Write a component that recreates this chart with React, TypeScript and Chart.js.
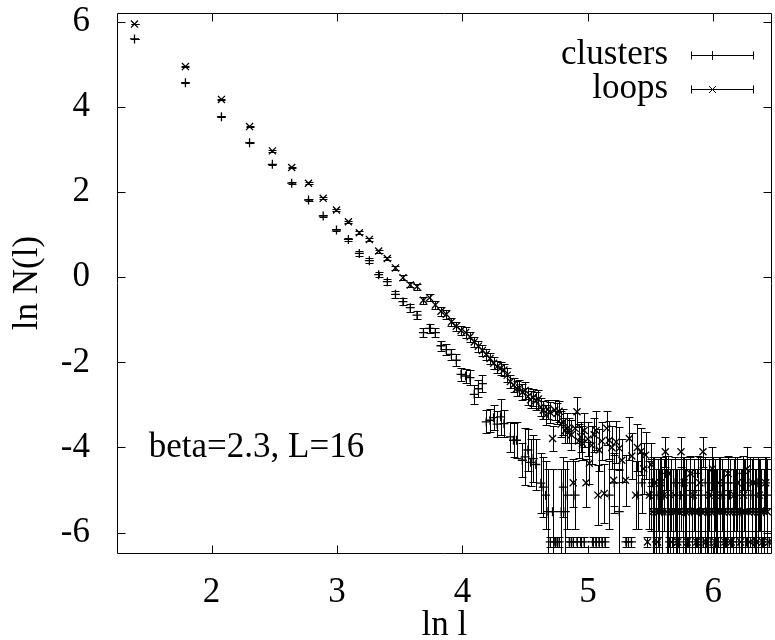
import React, { useEffect, useRef } from 'react';
import { Chart, registerables } from 'chart.js';

Chart.register(...registerables);

// ---- data ----
const seriesNames = ['clusters', 'loops'];
const xTicks = [2, 3, 4, 5, 6];
const yTicks = [-6, -4, -2, 0, 2, 4, 6];
const xTitle = 'ln l';
const yTitle = 'ln N(l)';
const annotationText = 'beta=2.3, L=16';
const annotationPos = [1.5, -4.0];

const clusterX = [
  1.386, 1.792, 2.079, 2.303, 2.485, 2.639, 2.773, 2.890, 2.996, 3.091,
  3.178, 3.258, 3.332, 3.401, 3.466, 3.526, 3.584, 3.638, 3.689, 3.738,
  3.784, 3.829, 3.871, 3.912, 3.951, 3.989, 4.025, 4.060, 4.094, 4.127,
  4.159, 4.190, 4.220, 4.248, 4.277, 4.304, 4.331, 4.382, 4.407, 4.431,
  4.477, 4.500, 4.522, 4.543, 4.564, 4.585, 4.625, 4.644, 4.663, 4.682,
  4.700, 4.718, 4.736, 4.754, 4.771, 4.787, 4.804, 4.820, 4.836, 4.852,
  4.868, 4.883, 4.898, 4.913, 4.942, 4.970, 5.037, 5.063, 5.088, 5.112,
  5.136, 5.170, 5.210, 5.250, 5.303, 5.323, 5.347, 5.400, 5.430,
  5.500, 5.515, 5.530, 5.545, 5.560, 5.575, 5.590, 5.605, 5.620, 5.635,
  5.650, 5.665, 5.680, 5.695, 5.710, 5.725, 5.740, 5.755, 5.770, 5.785,
  5.800, 5.815, 5.830, 5.845, 5.860, 5.875, 5.890, 5.905, 5.920, 5.935,
  5.950, 5.965, 5.980, 5.995, 6.010, 6.025, 6.040, 6.055, 6.070, 6.085,
  6.100, 6.115, 6.130, 6.145, 6.160, 6.175, 6.190, 6.205, 6.220, 6.235,
  6.250, 6.265, 6.280, 6.295, 6.310, 6.325, 6.340, 6.355, 6.370, 6.385,
  6.400, 6.415, 6.430, 6.445,
];
const clusterY = [
  5.60, 4.57, 3.77, 3.16, 2.655, 2.21, 1.815, 1.44, 1.11, 0.89,
  0.56, 0.39, 0.06, -0.105, -0.40, -0.575, -0.716, -0.89, -1.30, -1.20,
  -1.30, -1.61, -1.70, -1.81, -1.95, -2.28, -2.32, -2.36, -2.75, -2.62,
  -2.50, -3.40, -3.36, -3.30, -3.45, -3.28, -3.44, -3.75, -3.83, -3.83,
  -4.30, -4.22, -4.06, -4.35, -4.26, -4.40, -4.84, -4.93, -5.12, -5.51,
  -6.22, -5.51, -6.22, -6.22, -6.22, -5.51, -4.93, -5.51, -5.12, -6.22,
  -6.22, -6.22, -5.12, -6.22, -6.22, -6.22, -6.22, -6.22, -6.22, -6.22,
  -6.22, -5.12, -4.83, -5.51, -6.22, -6.22, -6.22, -5.12, -4.83,
  -5.12, -4.83, -5.51, -6.22, -5.12, -4.83, -5.51, -5.12, -4.61, -5.51,
  -6.22, -5.12, -6.22, -4.83, -5.51, -6.22, -5.12, -4.83, -5.51, -5.12,
  -6.22, -4.83, -5.51, -5.12, -6.22, -4.61, -5.51, -5.12, -6.22, -4.83,
  -5.51, -5.12, -6.22, -4.83, -5.12, -5.51, -6.22, -4.83, -5.12, -5.51,
  -6.22, -4.83, -5.12, -6.22, -5.51, -4.83, -5.12, -6.22, -5.51, -4.61,
  -5.12, -6.22, -5.51, -4.83, -5.12, -6.22, -5.51, -4.83, -5.12, -6.22,
  -5.51, -4.83, -5.12, -6.22,
];
const clusterErr = [
  0.01, 0.01, 0.01, 0.01, 0.015, 0.02, 0.02, 0.03, 0.03, 0.04,
  0.06, 0.06, 0.06, 0.07, 0.08, 0.08, 0.09, 0.10, 0.10, 0.10,
  0.11, 0.12, 0.12, 0.13, 0.14, 0.15, 0.16, 0.17, 0.22, 0.20,
  0.20, 0.27, 0.27, 0.30, 0.30, 0.43, 0.32, 0.35, 0.40, 0.42,
  0.40, 0.67, 0.50, 0.55, 0.55, 0.60, 0.70, 0.70, 0.80, 1.00,
  0.12, 1.00, 0.12, 0.12, 0.12, 1.00, 0.70, 1.00, 0.80, 0.12,
  0.12, 0.12, 0.80, 0.12, 0.12, 0.12, 0.12, 0.12, 0.12, 0.12,
  0.12, 0.80, 0.70, 1.00, 0.12, 0.12, 0.12, 0.80, 0.70,
  0.85, 0.60, 1.00, 0.12, 0.85, 0.60, 1.00, 0.85, 0.40, 1.00,
  0.12, 0.85, 0.12, 0.60, 1.00, 0.12, 0.85, 0.60, 1.00, 0.85,
  0.12, 0.60, 1.00, 0.85, 0.12, 0.40, 1.00, 0.85, 0.12, 0.60,
  1.00, 0.85, 0.12, 0.60, 0.85, 1.00, 0.12, 0.60, 0.85, 1.00,
  0.12, 0.60, 0.85, 0.12, 1.00, 0.60, 0.85, 0.12, 1.00, 0.40,
  0.85, 0.12, 1.00, 0.60, 0.85, 0.12, 1.00, 0.60, 0.85, 0.12,
  1.00, 0.60, 0.85, 0.12,
];

const loopX = [
  1.386, 1.792, 2.079, 2.303, 2.485, 2.639, 2.773, 2.890, 2.996, 3.091,
  3.178, 3.258, 3.332, 3.401, 3.466, 3.526, 3.584, 3.638, 3.689, 3.738,
  3.784, 3.829, 3.871, 3.912, 3.951, 3.989, 4.025, 4.060, 4.094, 4.127,
  4.159, 4.190, 4.220, 4.248, 4.277, 4.304, 4.331, 4.357, 4.382, 4.407,
  4.431, 4.454, 4.477, 4.500, 4.522, 4.543, 4.564, 4.585, 4.605, 4.625,
  4.644, 4.663, 4.682, 4.700, 4.718, 4.736, 4.754, 4.771, 4.787, 4.804,
  4.820, 4.836, 4.852, 4.868, 4.883, 4.898, 4.913, 4.927, 4.942, 4.956,
  4.970, 4.985, 5.000, 5.011, 5.030, 5.050, 5.065, 5.080, 5.090, 5.110,
  5.130, 5.150, 5.170, 5.190, 5.205, 5.225, 5.250, 5.270, 5.300, 5.330,
  5.350, 5.380, 5.395, 5.420, 5.445, 5.460, 5.475, 5.490,
  5.505, 5.517, 5.530, 5.542, 5.555, 5.567, 5.580, 5.592, 5.605, 5.617,
  5.630, 5.642, 5.655, 5.667, 5.680, 5.692, 5.705, 5.717, 5.730, 5.742,
  5.755, 5.767, 5.780, 5.792, 5.805, 5.817, 5.830, 5.842, 5.855, 5.867,
  5.880, 5.892, 5.905, 5.917, 5.930, 5.942, 5.955, 5.967, 5.980, 5.992,
  6.005, 6.017, 6.030, 6.042, 6.055, 6.067, 6.080, 6.092, 6.105, 6.117,
  6.130, 6.142, 6.155, 6.167, 6.180, 6.192, 6.205, 6.217, 6.230, 6.242,
  6.255, 6.267, 6.280, 6.292, 6.305, 6.317, 6.330, 6.342, 6.355, 6.367,
  6.380, 6.392, 6.405, 6.417, 6.430, 6.442,
];
const loopY = [
  5.95, 4.95, 4.18, 3.54, 2.97, 2.58, 2.21, 1.855, 1.58, 1.305,
  1.046, 0.89, 0.616, 0.44, 0.22, -0.01, -0.18, -0.22, -0.54, -0.48,
  -0.65, -0.80, -0.87, -1.05, -1.15, -1.25, -1.30, -1.40, -1.52, -1.62,
  -1.72, -1.81, -1.91, -2.02, -2.10, -2.14, -2.18, -2.30, -2.45, -2.53,
  -2.62, -2.60, -2.70, -2.66, -2.80, -2.88, -2.82, -2.90, -2.86, -3.05,
  -3.12, -3.24, -3.10, -3.18, -3.79, -3.12, -3.20, -3.15, -3.45, -3.40,
  -3.60, -3.55, -3.60, -3.70, -4.83, -3.55, -3.16, -3.85, -3.75, -3.90,
  -3.60, -4.83, -3.80, -4.37, -3.95, -3.70, -3.60, -5.12, -4.06, -3.85,
  -5.08, -3.55, -3.83, -4.00, -4.77, -3.87, -4.02, -4.30, -4.77, -3.79,
  -4.20, -5.12, -4.00, -4.10, -4.50, -4.18, -6.22, -5.12,
  -4.40, -5.51, -4.83, -5.51, -6.22, -5.51, -4.83, -5.51, -5.12, -4.10,
  -5.51, -4.61, -5.51, -6.22, -5.51, -5.12, -5.51, -6.22, -5.51, -4.10,
  -5.51, -4.83, -5.51, -6.22, -5.51, -4.61, -5.51, -5.12, -5.51, -6.22,
  -5.51, -4.83, -5.51, -4.10, -5.51, -6.22, -5.51, -5.12, -5.51, -4.50,
  -5.51, -6.22, -5.51, -4.83, -5.51, -5.12, -5.51, -6.22, -5.51, -4.61,
  -5.51, -6.22, -5.51, -5.12, -5.51, -4.83, -5.51, -6.22, -5.51, -5.12,
  -5.51, -4.50, -5.51, -6.22, -5.51, -4.83, -5.51, -6.22, -5.51, -5.12,
  -5.51, -6.22, -5.51, -4.83, -5.51, -6.22,
];
const loopErr = [
  0.01, 0.01, 0.01, 0.01, 0.015, 0.015, 0.02, 0.02, 0.02, 0.025,
  0.03, 0.03, 0.035, 0.04, 0.05, 0.06, 0.06, 0.07, 0.08, 0.08,
  0.09, 0.10, 0.10, 0.10, 0.11, 0.11, 0.12, 0.12, 0.12, 0.13,
  0.13, 0.13, 0.14, 0.14, 0.14, 0.15, 0.15, 0.16, 0.16, 0.17,
  0.18, 0.18, 0.19, 0.19, 0.20, 0.20, 0.20, 0.21, 0.22, 0.22,
  0.22, 0.24, 0.22, 0.24, 0.30, 0.24, 0.25, 0.25, 0.30, 0.30,
  0.30, 0.35, 0.30, 0.35, 0.57, 0.35, 0.35, 0.40, 0.35, 0.40,
  0.40, 0.57, 0.40, 0.50, 0.45, 0.40, 0.45, 0.70, 0.50, 0.45,
  0.70, 0.40, 0.45, 0.50, 0.60, 0.50, 0.50, 0.50, 0.60, 0.50,
  0.55, 0.80, 0.55, 0.55, 0.60, 0.55, 0.12, 0.80,
  0.50, 1.00, 0.60, 1.00, 0.12, 1.00, 0.60, 1.00, 0.85, 0.35,
  1.00, 0.40, 1.00, 0.12, 1.00, 0.85, 1.00, 0.12, 1.00, 0.35,
  1.00, 0.60, 1.00, 0.12, 1.00, 0.40, 1.00, 0.85, 1.00, 0.12,
  1.00, 0.60, 1.00, 0.35, 1.00, 0.12, 1.00, 0.85, 1.00, 0.50,
  1.00, 0.12, 1.00, 0.60, 1.00, 0.85, 1.00, 0.12, 1.00, 0.40,
  1.00, 0.12, 1.00, 0.85, 1.00, 0.60, 1.00, 0.12, 1.00, 0.85,
  1.00, 0.50, 1.00, 0.12, 1.00, 0.60, 1.00, 0.12, 1.00, 0.85,
  1.00, 0.12, 1.00, 0.60, 1.00, 0.12,
];

// ---- presentation ----
const FONT = "'Liberation Serif', 'Times New Roman', Times, serif";
const FS = 35;
const X_MIN = 1.2465;
const X_MAX = 6.465;
const Y_MIN = -6.48;
const Y_MAX = 6.21;

const px = (v: number) => Math.round(v) + 0.5;

const zeroPad = (s: any) => {
  s.paddingTop = 0;
  s.paddingBottom = 0;
  s.paddingLeft = 0;
  s.paddingRight = 0;
};

const drawPlugin = {
  id: 'gnuplotDecor',
  afterDatasetsDraw(chart: any) {
    const { ctx, chartArea: a, scales } = chart;
    const xs = scales.x;
    const ys = scales.y;
    ctx.save();
    ctx.strokeStyle = '#000';
    ctx.lineWidth = 1;
    // error bars
    ctx.save();
    ctx.beginPath();
    ctx.rect(a.left, a.top, a.right - a.left, a.bottom - a.top);
    ctx.clip();
    chart.data.datasets.forEach((ds: any) => {
      ds.data.forEach((p: any, i: number) => {
        const e = ds.errors[i];
        const cx = px(xs.getPixelForValue(p.x));
        const y1 = px(ys.getPixelForValue(p.y + e));
        const y2 = px(ys.getPixelForValue(p.y - e));
        ctx.beginPath();
        ctx.moveTo(cx, y1);
        ctx.lineTo(cx, y2);
        ctx.moveTo(cx - 4, y1);
        ctx.lineTo(cx + 4, y1);
        ctx.moveTo(cx - 4, y2);
        ctx.lineTo(cx + 4, y2);
        ctx.stroke();
      });
    });
    ctx.restore();

    // frame
    const L = px(a.left), R = px(a.right - 1), T = px(a.top), B = px(a.bottom);
    ctx.beginPath();
    ctx.rect(L, T, R - L, B - T);
    ctx.stroke();
    // inward ticks on all four sides
    ctx.beginPath();
    xTicks.forEach((v) => {
      const x = px(xs.getPixelForValue(v));
      ctx.moveTo(x, B); ctx.lineTo(x, B - 8);
      ctx.moveTo(x, T); ctx.lineTo(x, T + 8);
    });
    yTicks.forEach((v) => {
      const y = px(ys.getPixelForValue(v));
      ctx.moveTo(L, y); ctx.lineTo(L + 8, y);
      ctx.moveTo(R, y); ctx.lineTo(R - 8, y);
    });
    ctx.stroke();

    // annotation
    ctx.fillStyle = '#000';
    ctx.font = `${FS}px ${FONT}`;
    ctx.textAlign = 'left';
    ctx.textBaseline = 'middle';
    ctx.fillText(annotationText, xs.getPixelForValue(annotationPos[0]), ys.getPixelForValue(annotationPos[1]));

    // legend (gnuplot style: text, then sample)
    const rows = [55, 89];
    chart.data.datasets.forEach((ds: any, i: number) => {
      const yy = rows[i];
      ctx.textAlign = 'right';
      ctx.fillText(ds.label, 668, yy);
      const y0 = px(yy);
      ctx.beginPath();
      ctx.moveTo(691, y0); ctx.lineTo(753, y0);
      ctx.moveTo(px(691), y0 - 4); ctx.lineTo(px(691), y0 + 4);
      ctx.moveTo(px(753), y0 - 4); ctx.lineTo(px(753), y0 + 4);
      const mx = px(712);
      if (ds.pointStyle === 'cross') {
        ctx.moveTo(mx, y0 - 4.5); ctx.lineTo(mx, y0 + 4.5);
      } else {
        ctx.moveTo(mx - 3.5, y0 - 3.5); ctx.lineTo(mx + 3.5, y0 + 3.5);
        ctx.moveTo(mx - 3.5, y0 + 3.5); ctx.lineTo(mx + 3.5, y0 - 3.5);
      }
      ctx.stroke();
    });
    ctx.restore();
  },
};

export default function App() {
  const ref = useRef<HTMLCanvasElement>(null);
  useEffect(() => {
    const canvas = ref.current;
    if (!canvas) return;
    const pts = (xs: number[], ys: number[]) => xs.map((v, i) => ({ x: v, y: ys[i] }));
    const tickFont = { family: FONT, size: FS };
    const chart = new Chart(canvas, {
      type: 'scatter',
      data: {
        datasets: [
          {
            label: seriesNames[0],
            data: pts(clusterX, clusterY),
            errors: clusterErr,
            pointStyle: 'cross',
            pointRadius: 4.5,
            borderColor: '#000',
            backgroundColor: '#000',
            borderWidth: 1.3,
          } as any,
          {
            label: seriesNames[1],
            data: pts(loopX, loopY),
            errors: loopErr,
            pointStyle: 'crossRot',
            pointRadius: 5,
            borderColor: '#000',
            backgroundColor: '#000',
            borderWidth: 1.3,
          } as any,
        ],
      },
      options: {
        responsive: false,
        animation: false,
        devicePixelRatio: 1,
        events: [],
        layout: { padding: { top: 13, right: 1, left: 0, bottom: 0 } },
        plugins: { legend: { display: false }, tooltip: { enabled: false } },
        scales: {
          x: {
            type: 'linear',
            min: X_MIN,
            max: X_MAX,
            afterFit: (s: any) => { s.height = 87; zeroPad(s); },
            afterBuildTicks: (s: any) => { s.ticks = xTicks.map((v) => ({ value: v })); },
            grid: { display: false },
            border: { display: false },
            ticks: { padding: 11, color: '#000', font: tickFont, maxRotation: 0, autoSkip: false, callback: (v: any) => String(v) },
            title: { display: true, text: xTitle, color: '#000', font: tickFont, padding: { top: 0, bottom: -7 } },
          },
          y: {
            type: 'linear',
            min: Y_MIN,
            max: Y_MAX,
            afterFit: (s: any) => { s.width = 117; zeroPad(s); },
            afterBuildTicks: (s: any) => { s.ticks = yTicks.map((v) => ({ value: v })); },
            grid: { display: false },
            border: { display: false },
            ticks: { padding: 19, color: '#000', font: tickFont, autoSkip: false, callback: (v: any) => String(v) },
            title: { display: true, text: yTitle, color: '#000', font: tickFont, padding: { top: 7, bottom: 0 } },
          },
        },
      } as any,
      plugins: [drawPlugin],
    });
    return () => chart.destroy();
  }, []);
  return (
    <div style={{ position: 'absolute', left: 0, top: 0, width: 775, height: 640, overflow: 'hidden', background: '#fff' }}>
      <canvas ref={ref} width={778} height={640} style={{ display: 'block' }} />
    </div>
  );
}
